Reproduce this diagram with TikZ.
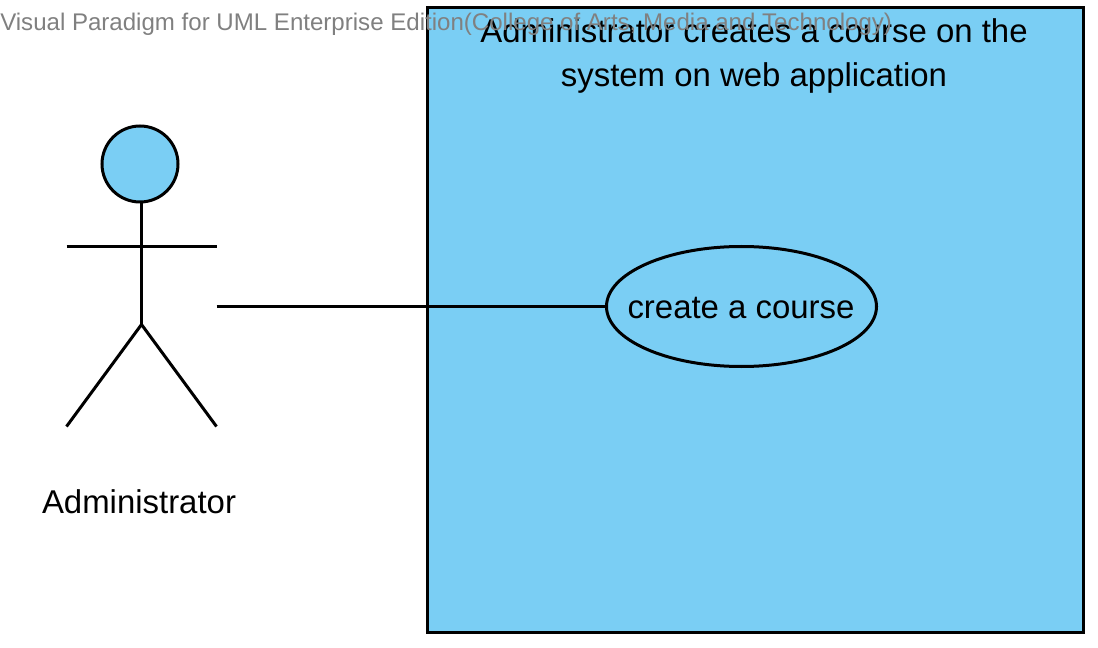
\documentclass[tikz,border=0pt]{standalone}
\usepackage{fontspec}
\setmainfont{Liberation Sans}
\usetikzlibrary{shapes.geometric,positioning}
\definecolor{umlBlue}{RGB}{122,206,244}
\definecolor{markGray}{RGB}{128,128,128}
\tikzset{
  umlline/.style={draw=black,line width=2.25pt},
  umltext/.style={font=\fontsize{24.7}{33}\selectfont,text=black,inner sep=0pt,align=center},
}
\begin{document}
\begin{tikzpicture}[x=0.75pt,y=-0.75pt]
        \useasboundingbox (0,0) rectangle (1098,648);
        % System box
        \node[umlline,fill=umlBlue,minimum width=492pt,minimum height=468.75pt,inner sep=0pt,anchor=north west] (system) at (425.5,6) {};
        \node[umltext] (systemTitle) at (754,56) {Administrator creates a course on the\\system on web application};
        % Actor
        \node[umlline,fill=umlBlue,circle,minimum size=57pt,inner sep=0pt] (head) at (140,164) {};
        \coordinate (neck) at (141.5,202);
        \coordinate (hip) at (141.5,324.5);
        \coordinate (armL) at (66.5,246.5);
        \coordinate (armR) at (216.5,246.5);
        \coordinate (footL) at (66.5,426.5);
        \coordinate (footR) at (216.5,426.5);
        \draw[umlline] (neck) -- (hip);
        \draw[umlline] (armL) -- (armR);
        \draw[umlline] (footL) -- (hip) -- (footR);
        \node[umltext] (actorName) at (139,502) {Administrator};
        % Use case
        \node[umlline,fill=umlBlue,ellipse,minimum width=202.5pt,minimum height=90pt,inner sep=0pt] (createCourse) at (741.5,306.5) {};
        \node[umltext] at (741,308) {create a course};
        % Association
        \coordinate (actorEnd) at (216.5,306.5);
        \draw[umlline] (actorEnd) -- (createCourse.west);
        % Watermark
        \node[font=\fontsize{18.05}{20}\selectfont,text=markGray,inner sep=0pt,anchor=west] (watermark) at (0,24) {Visual Paradigm for UML Enterprise Edition(College of Arts, Media and Technology)};
      \end{tikzpicture}
\end{document}
